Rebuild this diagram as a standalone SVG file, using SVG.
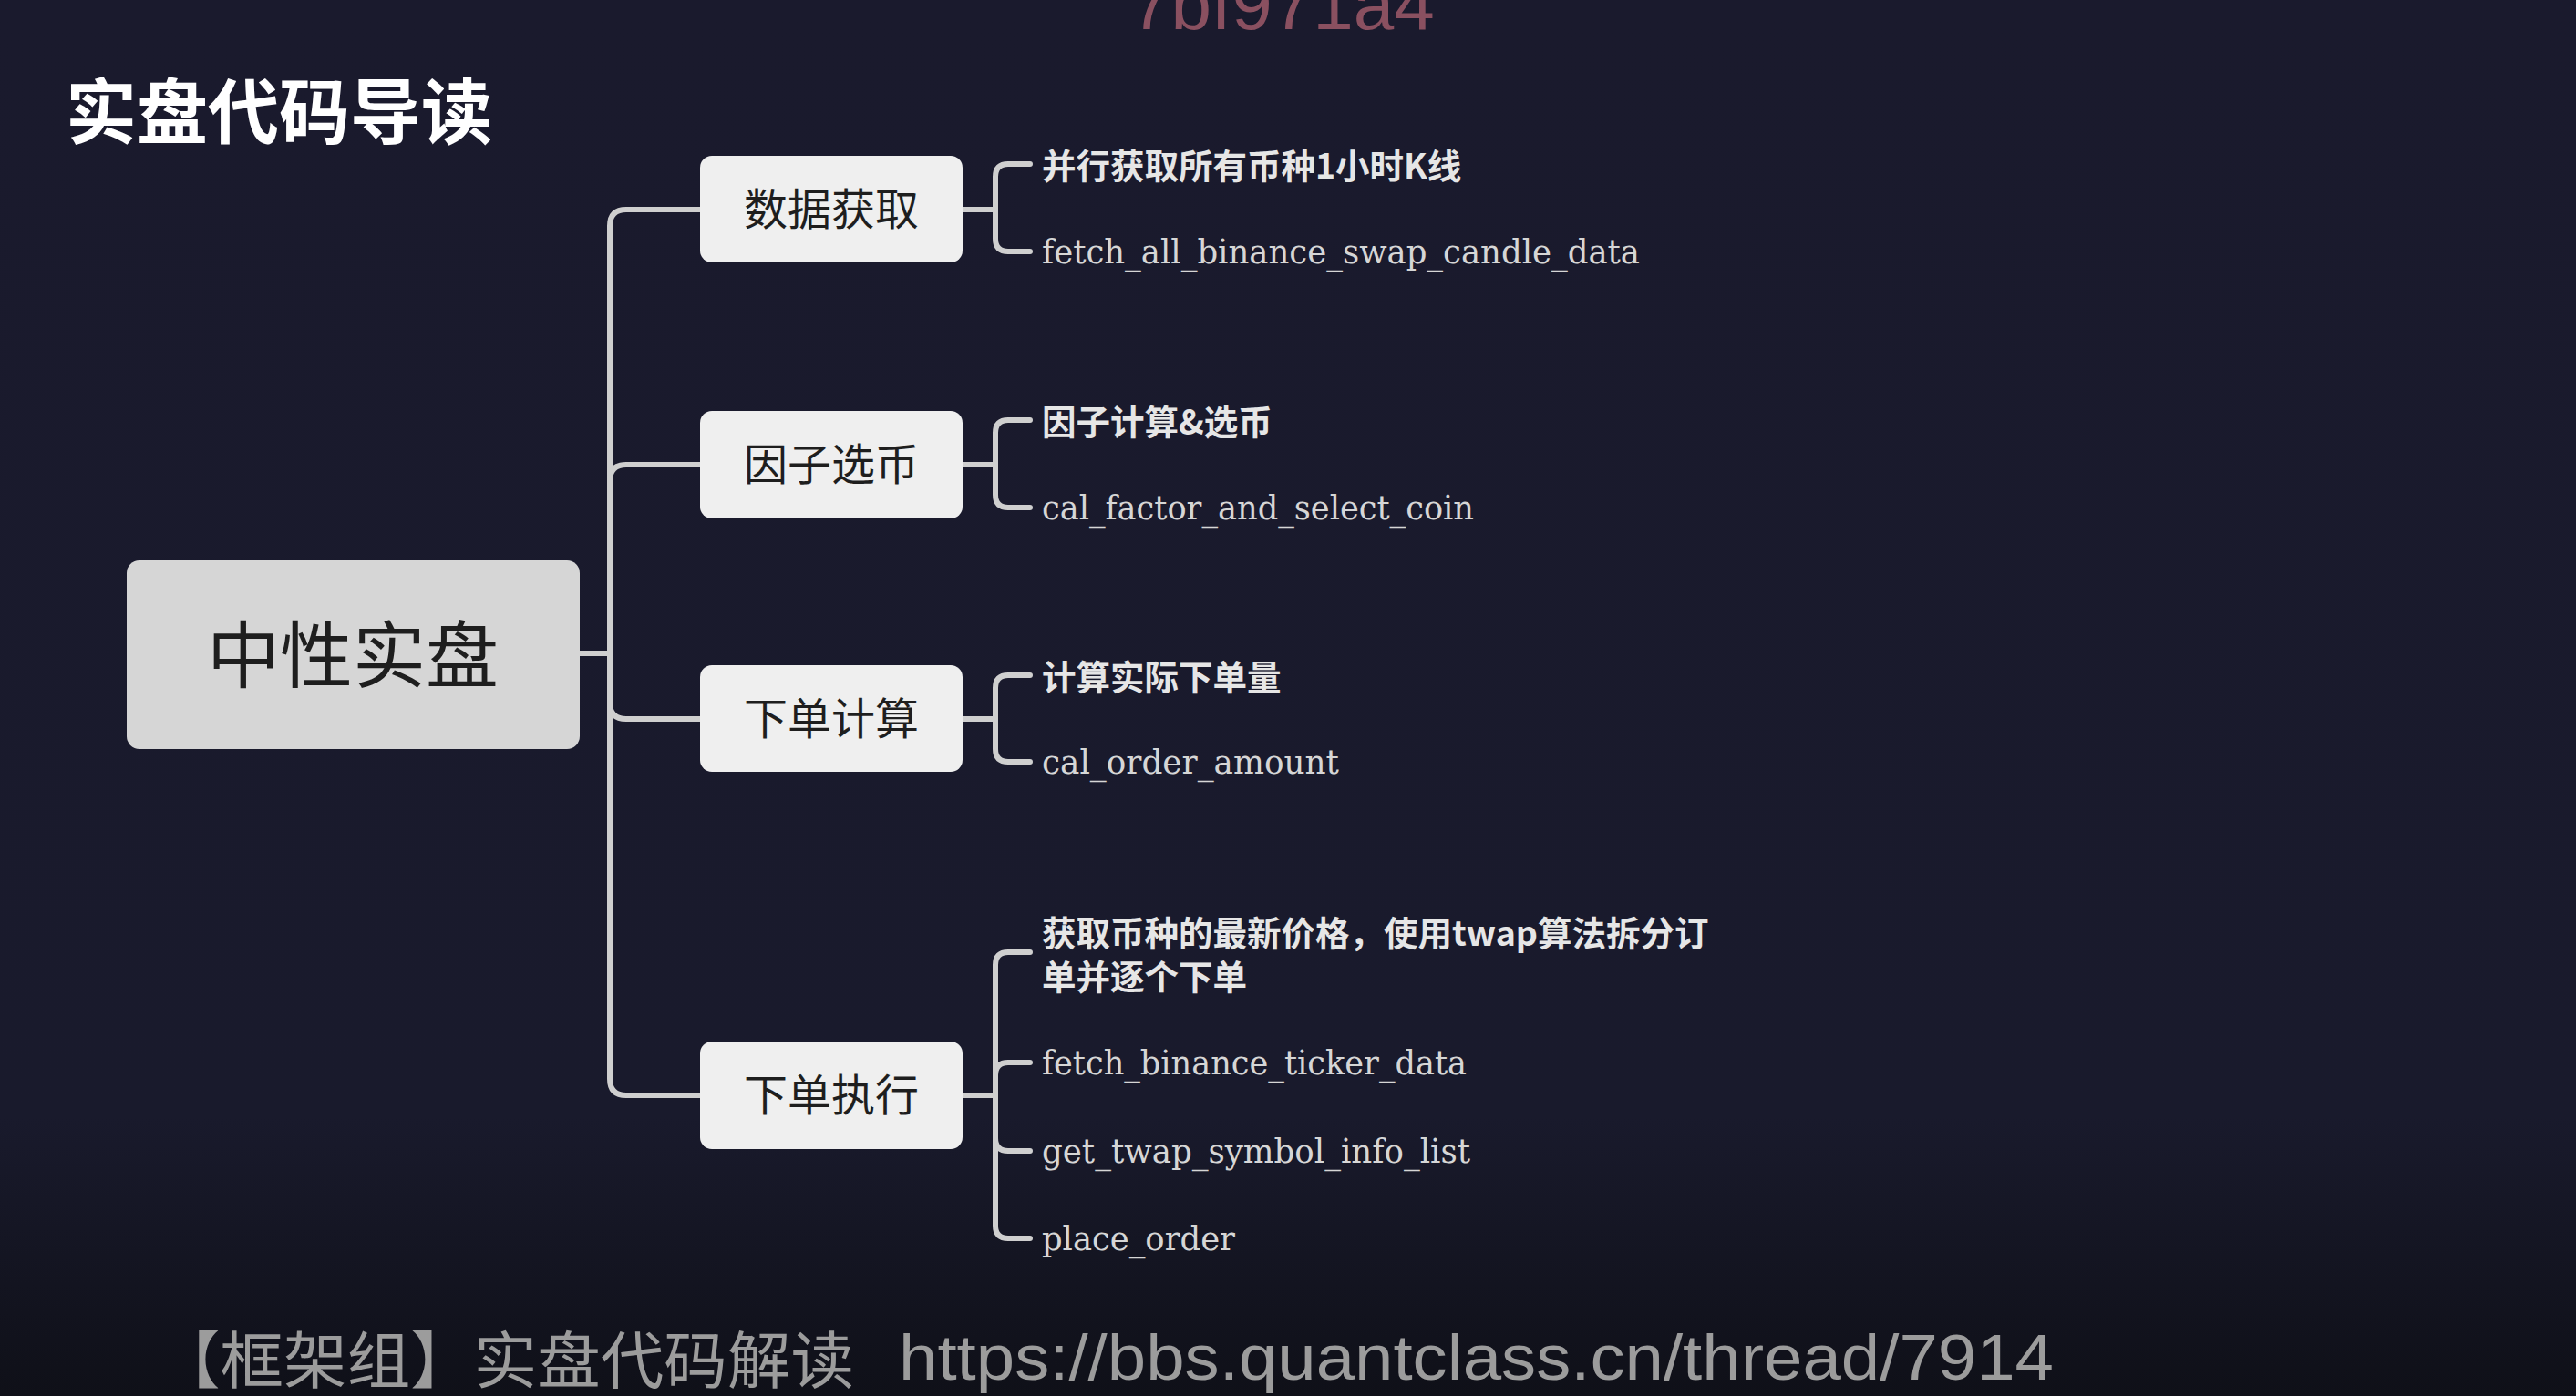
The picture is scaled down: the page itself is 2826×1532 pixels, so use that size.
<svg xmlns="http://www.w3.org/2000/svg" width="2826" height="1532" viewBox="0 0 2826 1532">
<defs>
<linearGradient id="bg" x1="0" y1="0" x2="0" y2="1">
<stop offset="0" stop-color="#1a1a2d"/>
<stop offset="0.8" stop-color="#191a2c"/>
<stop offset="1" stop-color="#0f1018"/>
</linearGradient>
</defs>
<style>
.conn{fill:none;stroke:#cfcfcf;stroke-width:6;stroke-linecap:round;stroke-linejoin:round}
.l1 rect{fill:#efefef}
.l1 text{font-family:"Noto Sans CJK SC",sans-serif;font-size:48px;fill:#1e1e1e;text-anchor:middle;dominant-baseline:central}
.cn{font-family:"Noto Sans CJK SC",sans-serif;font-size:37.5px;font-weight:bold;fill:#e6e6e6;dominant-baseline:central}
.code{font-family:"DejaVu Serif Condensed","DejaVu Serif",serif;font-size:38px;fill:#d6d6d6;dominant-baseline:central}
</style>
<rect x="0" y="0" width="2826" height="1532" fill="url(#bg)"/>
<text x="1240" y="32" font-family="Liberation Sans, sans-serif" font-size="80" fill="#8a5060">7bf971a4</text>
<text x="72" y="118" font-family="Noto Sans CJK SC, sans-serif" font-size="78" font-weight="bold" fill="#ffffff" dominant-baseline="central">实盘代码导读</text>

<g id="connectors">
<path class="conn" d="M636 717 H669"/>
<path class="conn" d="M669 717 V248 Q669 230 687 230 H768"/>
<path class="conn" d="M669 717 V528 Q669 510 687 510 H768"/>
<path class="conn" d="M669 717 V771 Q669 789 687 789 H768"/>
<path class="conn" d="M669 717 V1184 Q669 1202 687 1202 H768"/>
<path class="conn" d="M1056 230 H1092 V194 Q1092 180 1106 180 H1130"/>
<path class="conn" d="M1092 230 V262 Q1092 276 1106 276 H1130"/>
<path class="conn" d="M1056 510 H1092 V475 Q1092 461 1106 461 H1130"/>
<path class="conn" d="M1092 510 V543 Q1092 557 1106 557 H1130"/>
<path class="conn" d="M1056 789 H1092 V755 Q1092 741 1106 741 H1130"/>
<path class="conn" d="M1092 789 V822 Q1092 836 1106 836 H1130"/>
<path class="conn" d="M1056 1202 H1092 V1059 Q1092 1045 1106 1045 H1130"/>
<path class="conn" d="M1092 1202 V1180 Q1092 1166 1106 1166 H1130"/>
<path class="conn" d="M1092 1202 V1249 Q1092 1263 1106 1263 H1130"/>
<path class="conn" d="M1092 1202 V1345 Q1092 1359 1106 1359 H1130"/>
</g>

<g id="root">
<rect x="139" y="615" width="497" height="207" rx="14" fill="#d6d6d6"/>
<text x="387" y="713" font-family="Noto Sans CJK SC, sans-serif" font-size="80" fill="#1e1e1e" text-anchor="middle" dominant-baseline="central">中性实盘</text>
</g>

<g id="n1" class="l1"><rect x="768" y="171" width="288" height="117" rx="13"/><text x="912" y="226">数据获取</text></g>
<g id="n2" class="l1"><rect x="768" y="451" width="288" height="118" rx="13"/><text x="912" y="506">因子选币</text></g>
<g id="n3" class="l1"><rect x="768" y="730" width="288" height="117" rx="13"/><text x="912" y="785">下单计算</text></g>
<g id="n4" class="l1"><rect x="768" y="1143" width="288" height="118" rx="13"/><text x="912" y="1198">下单执行</text></g>

<g id="c1a"><text class="cn" x="1143" y="179">并行获取所有币种1小时K线</text></g>
<g id="c1b"><text class="code" x="1143" y="276" textLength="656" lengthAdjust="spacingAndGlyphs">fetch_all_binance_swap_candle_data</text></g>
<g id="c2a"><text class="cn" x="1143" y="460">因子计算&amp;选币</text></g>
<g id="c2b"><text class="code" x="1143" y="557" textLength="474" lengthAdjust="spacingAndGlyphs">cal_factor_and_select_coin</text></g>
<g id="c3a"><text class="cn" x="1143" y="740">计算实际下单量</text></g>
<g id="c3b"><text class="code" x="1143" y="836" textLength="326" lengthAdjust="spacingAndGlyphs">cal_order_amount</text></g>
<g id="c4a"><text class="cn" x="1143" y="1021">获取币种的最新价格，使用twap算法拆分订</text><text class="cn" x="1143" y="1069">单并逐个下单</text></g>
<g id="c4b"><text class="code" x="1143" y="1166" textLength="466" lengthAdjust="spacingAndGlyphs">fetch_binance_ticker_data</text></g>
<g id="c4c"><text class="code" x="1143" y="1263" textLength="470" lengthAdjust="spacingAndGlyphs">get_twap_symbol_info_list</text></g>
<g id="c4d"><text class="code" x="1143" y="1359" textLength="212" lengthAdjust="spacingAndGlyphs">place_order</text></g>

<text x="172" y="1488" font-family="Noto Sans CJK SC, sans-serif" font-size="68" fill="#9c9c9c" dominant-baseline="central" textLength="765" lengthAdjust="spacingAndGlyphs">【框架组】实盘代码解读</text>
<text x="986" y="1490" font-family="Liberation Sans, sans-serif" font-size="70" fill="#9c9c9c" dominant-baseline="central" textLength="1267" lengthAdjust="spacingAndGlyphs">https://bbs.quantclass.cn/thread/7914</text>
</svg>
